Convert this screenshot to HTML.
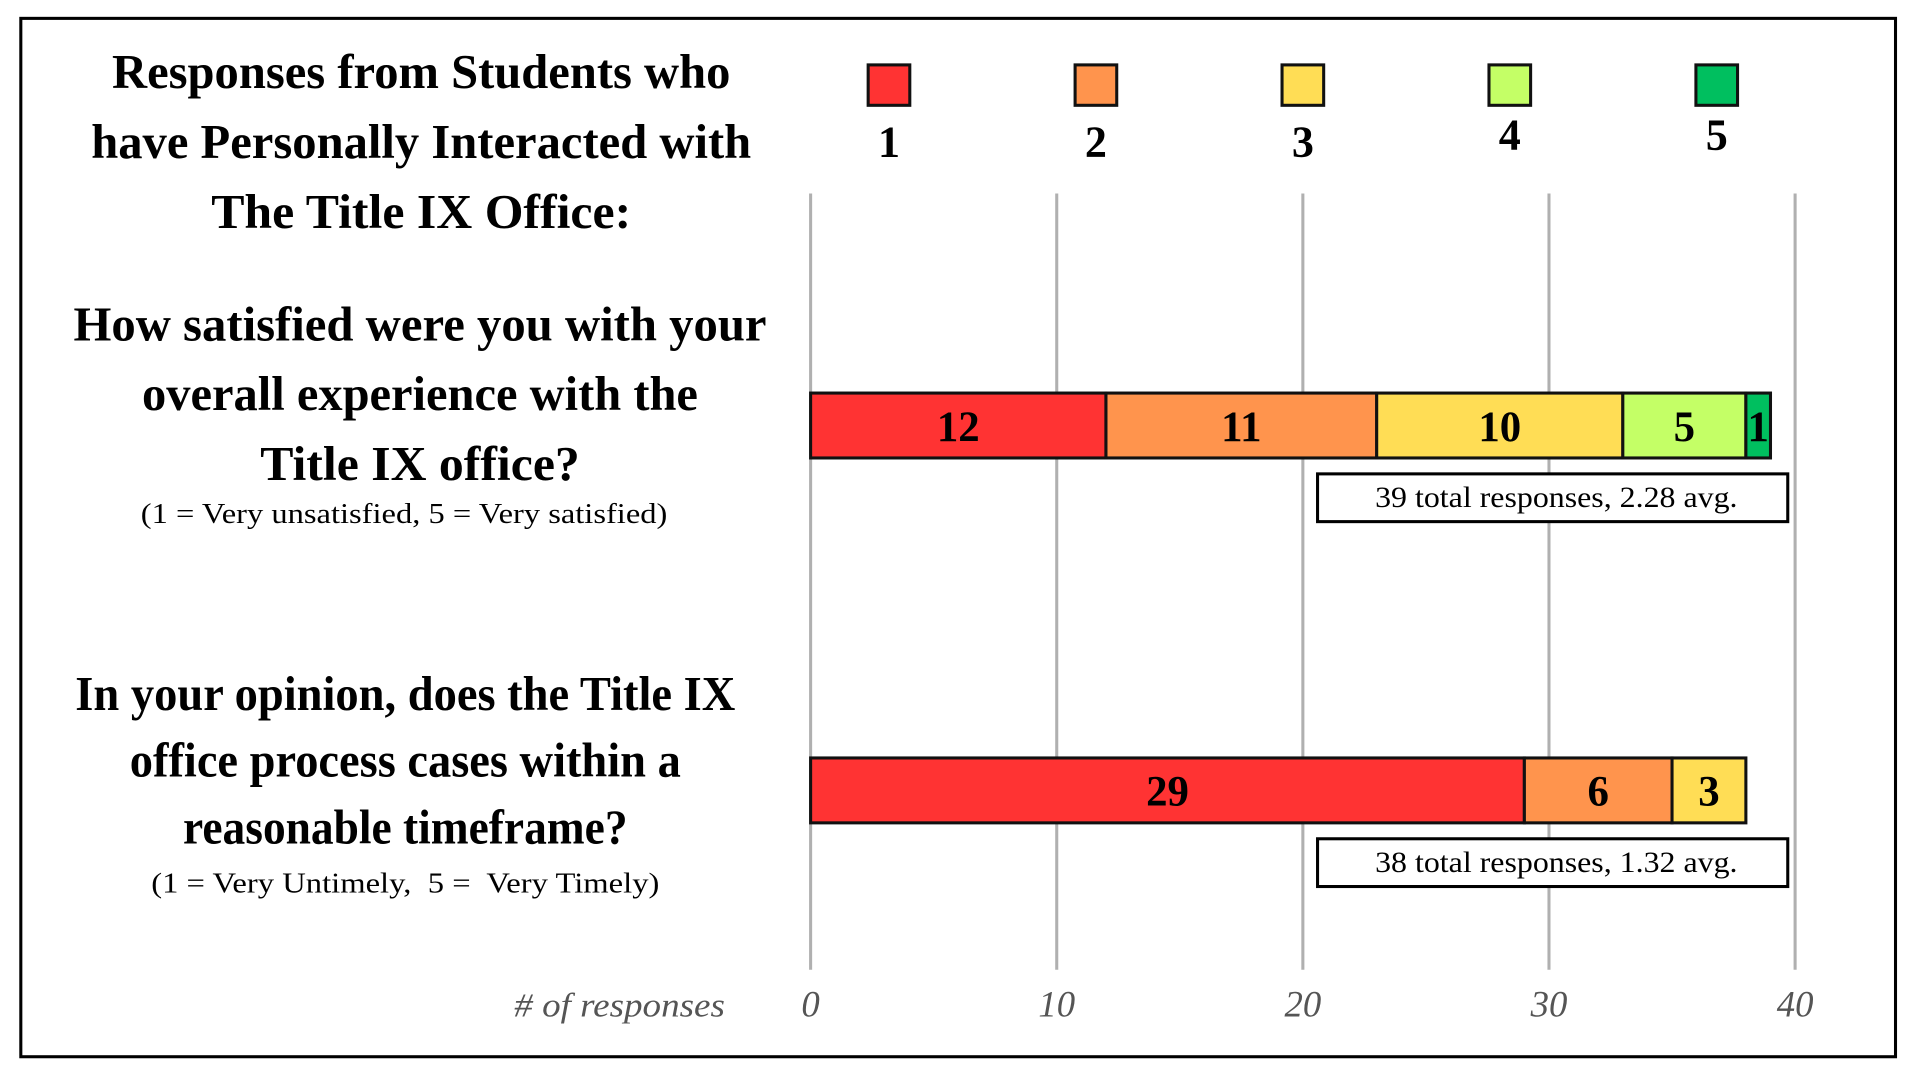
<!DOCTYPE html>
<html><head><meta charset="utf-8"><style>
html,body{margin:0;padding:0;background:#fff;width:1920px;height:1080px;overflow:hidden}
svg{display:block}
text{font-family:"Liberation Serif",serif}
</style></head><body>
<svg id="chart" width="1920" height="1080" viewBox="0 0 1568 882" preserveAspectRatio="none" xmlns="http://www.w3.org/2000/svg">
<rect x="17" y="15" width="1531" height="848" fill="#fff" stroke="#000" stroke-width="2.5"/>
<g font-weight="bold" font-size="40" text-anchor="middle">
<text x="344" y="72" textLength="505" lengthAdjust="spacingAndGlyphs">Responses from Students who</text>
<text x="344" y="129" textLength="539" lengthAdjust="spacingAndGlyphs">have Personally Interacted with</text>
<text x="344" y="186" textLength="343" lengthAdjust="spacingAndGlyphs">The Title IX Office:</text>
</g>
<g text-anchor="middle">
<text x="343" y="278" font-weight="bold" font-size="40" textLength="566" lengthAdjust="spacingAndGlyphs">How satisfied were you with your</text>
<text x="343" y="335" font-weight="bold" font-size="40" textLength="454" lengthAdjust="spacingAndGlyphs">overall experience with the</text>
<text x="343" y="392" font-weight="bold" font-size="40" textLength="261" lengthAdjust="spacingAndGlyphs">Title IX office?</text>
<text x="330" y="427" font-size="23" textLength="430" lengthAdjust="spacingAndGlyphs">(1 = Very unsatisfied, 5 = Very satisfied)</text>
</g>
<g text-anchor="middle">
<text x="331" y="580" font-weight="bold" font-size="40" textLength="539" lengthAdjust="spacingAndGlyphs">In your opinion, does the Title IX</text>
<text x="331" y="634" font-weight="bold" font-size="40" textLength="450" lengthAdjust="spacingAndGlyphs">office process cases within a</text>
<text x="331" y="689" font-weight="bold" font-size="40" textLength="363" lengthAdjust="spacingAndGlyphs">reasonable timeframe?</text>
<text x="331" y="729" font-size="23" textLength="415" lengthAdjust="spacingAndGlyphs" xml:space="preserve">(1 = Very Untimely,  5 =  Very Timely)</text>
</g>
<g id="grid"></g>
<g id="bars"></g>
<g id="legend"></g>
<g id="axis"></g>
</svg>
<script>
const ticks = [0, 10, 20, 30, 40];
const tickLabels = ["0", "10", "20", "30", "40"];
const ratingLabels = ["1", "2", "3", "4", "5"];
const colors = ["#ff3333", "#ff944d", "#ffdd55", "#c4ff66", "#00bf5f"];
const q1Values = [12, 11, 10, 5, 1];
const q2Values = [29, 6, 3, 0, 0];
const totalsText = ["39 total responses, 2.28 avg.", "38 total responses, 1.32 avg."];
const NS = "http://www.w3.org/2000/svg";
const X0 = 662, X1 = 1466, XMAX = 40;
function xs(v){ return X0 + (X1 - X0) * v / XMAX; }
function mk(tag, attrs, parent){ const e = document.createElementNS(NS, tag); for (const k in attrs) e.setAttribute(k, attrs[k]); parent.appendChild(e); return e; }
const grid = document.getElementById('grid'), bars = document.getElementById('bars'), legend = document.getElementById('legend'), axis = document.getElementById('axis');
ticks.forEach((t, i) => {
  const l = mk('line', {x1: xs(t), x2: xs(t), y1: 158, y2: 792, stroke: '#b0b0b0', 'stroke-width': 2.5}, grid);
  
  
  const tx = mk('text', {x: xs(t), y: 830, 'text-anchor': 'middle', 'font-size': 30, 'font-style': 'italic', fill: '#555'}, axis);
  tx.textContent = tickLabels[i];
  
  
});
const at = mk('text', {x: 592, y: 830, 'text-anchor': 'end', 'font-size': 28, 'font-style': 'italic', fill: '#555', textLength: 172, lengthAdjust: 'spacingAndGlyphs'}, axis);
at.textContent = '# of responses';


const legX = [726, 895, 1064, 1233, 1402], legY = [128, 128, 128, 122, 122];
ratingLabels.forEach((r, i) => {
  const s = mk('rect', {x: legX[i] - 17, y: 53, width: 34, height: 33, fill: colors[i], stroke: '#111', 'stroke-width': 2.5}, legend);
  
  
  const t = mk('text', {x: legX[i], y: legY[i], 'text-anchor': 'middle', 'font-size': 36, 'font-weight': 'bold'}, legend);
  t.textContent = r;
  
  
});
function drawBar(vals, y0, qi){
  let cum = 0;
  vals.forEach((v, i) => {
    if (!v) return;
    const a = xs(cum), b = xs(cum + v);
    const r = mk('rect', {x: a, y: y0, width: b - a, height: 53, fill: colors[i], stroke: '#111', 'stroke-width': 2.5}, bars);
    
    
    const t = mk('text', {x: (a + b) / 2, y: y0 + 39, 'text-anchor': 'middle', 'font-size': 35, 'font-weight': 'bold'}, bars);
    t.textContent = v;
    
    
    cum += v;
  });
  const by = y0 + 66;
  const box = mk('rect', {x: 1076, y: by, width: 384, height: 39, fill: '#fff', stroke: '#000', 'stroke-width': 2.5}, bars);
  
  
  const tt = mk('text', {x: 1271, y: by + 27, 'text-anchor': 'middle', 'font-size': 24, textLength: 296, lengthAdjust: 'spacingAndGlyphs'}, bars);
  tt.textContent = totalsText[qi - 1];
  
  
}
drawBar(q1Values, 321, 1);
drawBar(q2Values, 619, 2);
</script>
</body></html>
